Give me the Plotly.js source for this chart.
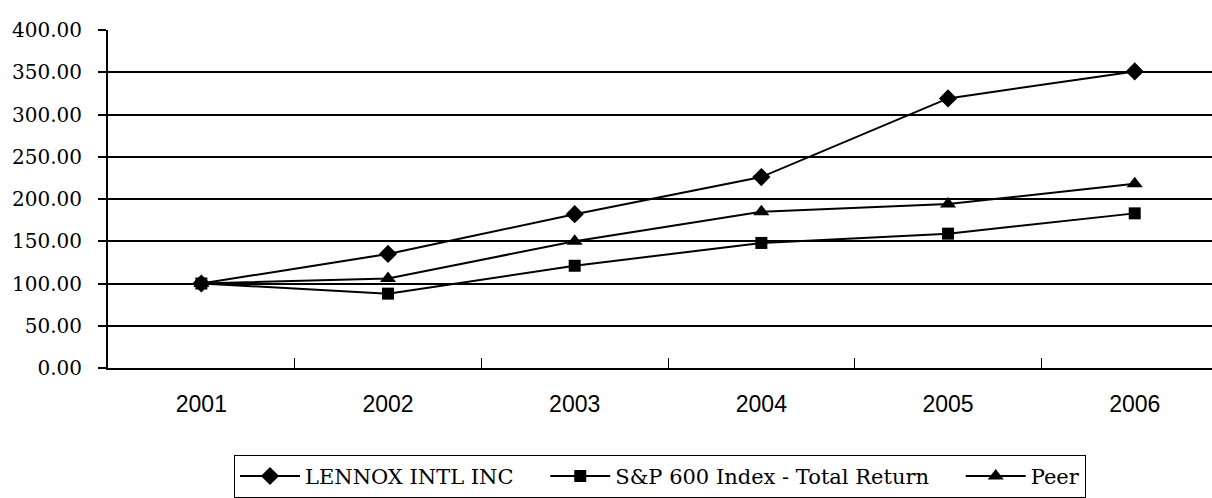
<!DOCTYPE html>
<html>
<head>
<meta charset="utf-8">
<script src="https://cdn.plot.ly/plotly-3.0.1.min.js"></script>
<style>html,body{margin:0;padding:0;background:#fff;}#chart{width:1212px;height:498px;}</style>
</head>
<body>
<div id="chart"></div>
<script>
const years = ["2001", "2002", "2003", "2004", "2005", "2006"];
const lennox = [100, 135, 182, 226, 319, 351];
const sp600 = [100, 88, 121, 148, 159, 183];
const peer = [100, 106, 150, 185, 194, 218];
const seriesNames = ["LENNOX INTL INC", "S&P 600 Index - Total Return", "Peer"];
const yTicks = [0, 50, 100, 150, 200, 250, 300, 350, 400];

const serif = "DejaVu Serif";
const sans = "Arial";

const lineStyle = {color: "#000", width: 2};
const pad = "\u00A0\u00A0\u00A0\u00A0";
const traces = [
  {x: years, y: lennox, name: seriesNames[0] + pad, type: "scatter", mode: "lines+markers",
   line: lineStyle, marker: {symbol: "diamond", size: 14, color: "#000"}},
  {x: years, y: sp600, name: seriesNames[1] + pad, type: "scatter", mode: "lines+markers",
   line: lineStyle, marker: {symbol: "square", size: 12, color: "#000"}},
  {x: years, y: peer, name: seriesNames[2], type: "scatter", mode: "lines+markers",
   line: lineStyle, marker: {symbol: "triangle-up", size: 14, color: "#000"}}
];

const layout = {
  width: 1212, height: 498,
  margin: {l: 108, r: 0, t: 30, b: 130, pad: 0},
  paper_bgcolor: "#fff", plot_bgcolor: "#fff",
  showlegend: true,
  xaxis: {
    type: "category", range: [-0.5, 5.414],
    showgrid: false, zeroline: false,
    showline: true, linecolor: "#000", linewidth: 2,
    ticks: "inside", tickson: "boundaries", ticklen: 10, tickcolor: "#000", tickwidth: 1,
    ticklabelstandoff: 14,
    tickfont: {family: sans, size: 23, color: "#000"}
  },
  yaxis: {
    range: [0, 400], tickvals: yTicks, tickformat: ".2f",
    showgrid: true, gridcolor: "#000", gridwidth: 2,
    zeroline: false, showline: true, linecolor: "#000", linewidth: 2,
    ticks: "outside", ticklen: 8, tickcolor: "#000", tickwidth: 2,
    ticklabelstandoff: 12,
    tickfont: {family: serif, size: 20, color: "#000"}
  },
  legend: {
    orientation: "h", x: 0.5, xanchor: "center", y: -0.257, yanchor: "top",
    bgcolor: "#fff", bordercolor: "#000", borderwidth: 1,
    font: {family: serif, size: 21, color: "#000"},
    itemwidth: 60, tracegroupgap: 0
  }
};

Plotly.newPlot("chart", traces, layout, {staticPlot: true, displayModeBar: false});
</script>
</body>
</html>
